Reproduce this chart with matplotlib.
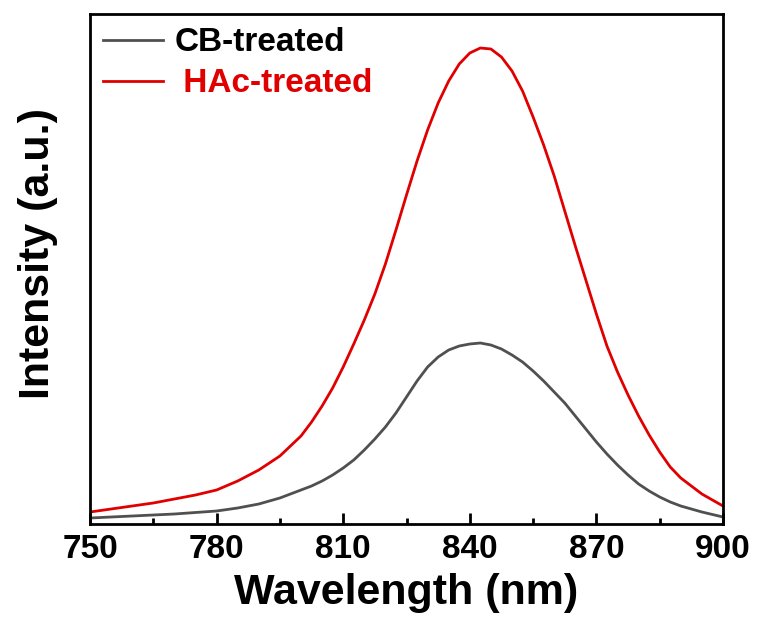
import matplotlib
matplotlib.use('Agg')
import matplotlib.pyplot as plt
from matplotlib.ticker import MultipleLocator

plt.rcParams['font.family'] = ['Liberation Sans', 'DejaVu Sans']
plt.rcParams['font.weight'] = 'bold'

# values (arbitrary intensity units)
wavelength = [750, 755, 760, 765, 770, 775, 780, 785, 790, 795, 800, 802.5, 805, 807.5,
              810, 812.5, 815, 817.5, 820, 822.5, 825, 827.5, 830, 832.5, 835, 837.5,
              840, 842.5, 845, 847.5, 850, 852.5, 855, 857.5, 860, 862.5, 865, 867.5,
              870, 872.5, 875, 877.5, 880, 882.5, 885, 887.5, 890, 895, 900]
hac_treated = [12, 15, 18, 21, 25, 29, 34, 43, 54, 68, 88, 102, 118, 136,
               157, 180, 204, 230, 260, 294, 329, 363, 394, 421, 443, 460,
               471, 476, 475, 467, 453, 433, 407, 379, 348, 313, 278, 244,
               210, 178, 152, 129, 108, 89, 72, 57, 46, 30, 18]
cb_treated = [6, 7, 8, 9, 10, 11.5, 13, 16, 20, 26, 34, 38, 43, 49,
              56, 64, 74, 85, 97, 111, 127, 143, 157, 167, 174, 178,
              180, 181, 179, 175, 169, 162, 153, 143, 132, 121, 108, 95,
              82, 70, 59, 49, 40, 33, 27, 22, 18, 12, 7]

labels = ['CB-treated', ' HAc-treated']
line_colors = ['#505050', '#e00000']
text_colors = ['black', '#e00000']

fig = plt.figure(figsize=(7.57, 6.21), dpi=100)
ax = fig.add_axes([90 / 757, 97 / 621, 633 / 757, 510 / 621])

ax.plot(wavelength, cb_treated, color=line_colors[0], lw=2, label=labels[0])
ax.plot(wavelength, hac_treated, color=line_colors[1], lw=2, label=labels[1])

ax.set_xlim(750, 900)
ax.set_ylim(0, 510)
ax.xaxis.set_major_locator(MultipleLocator(30))
ax.xaxis.set_minor_locator(MultipleLocator(15))
ax.set_yticks([])
ax.tick_params(axis='x', which='major', direction='in', length=8, width=2,
               labelsize=24, pad=7)
ax.tick_params(axis='x', which='minor', direction='in', length=4, width=2)
for lbl in ax.get_xticklabels():
    lbl.set_fontweight('bold')
for sp in ax.spines.values():
    sp.set_linewidth(2)

ax.set_xlabel('Wavelength (nm)', fontsize=31, fontweight='bold', labelpad=6)
ax.set_ylabel('Intensity (a.u.)', fontsize=31, fontweight='bold')
ax.yaxis.set_label_coords(-0.05, 0.531)

ax.legend(loc='upper left', frameon=False, fontsize=24, handlelength=1.8,
          handletextpad=0.33, labelspacing=0.3, borderaxespad=0.1, borderpad=0.3,
          labelcolor=text_colors)

fig.savefig('out.png', dpi=100)
